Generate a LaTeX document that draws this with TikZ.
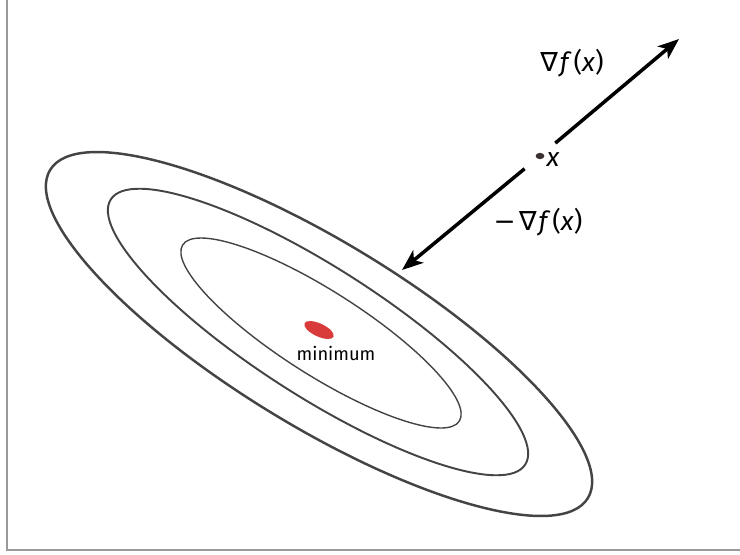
\documentclass[tikz,border=0pt]{standalone}
\usepackage{fontspec}
\setmainfont{Fira Sans}
\newfontfamily\symfont{DejaVu Sans}
\usetikzlibrary{arrows.meta,shapes.geometric}
\definecolor{contourgray}{HTML}{444444}
\definecolor{minred}{HTML}{D93A3A}
\definecolor{dotbrown}{HTML}{3A3030}
\newcommand{\gradf}{{\symfont ∇}\kern0.5pt\textit{f}\kern0.5pt(\textit{x})}
\begin{document}
\begin{tikzpicture}[
    contour/.style={draw=contourgray},
    grad/.style={line width=1pt, -{Stealth[length=6pt, width=4.6pt, inset=1.6pt]}, shorten <=0.2cm},
    dotpt/.style={ellipse, fill=dotbrown, minimum width=2.5pt, minimum height=1.8pt, inner sep=0pt},
    lbl/.style={inner sep=0pt, font=\fontsize{7.5}{9}\selectfont},
    frame/.style={draw=gray!80, line width=0.6pt}
]
\useasboundingbox (0,0) rectangle (7.40,5.54);
% frame (cut off at top and right)
\draw[frame] (0.07,5.60) -- (0.07,0.043) -- (7.50,0.043);
% level sets
\draw[contour, line width=0.7pt, shift={(3.19,2.20)}, rotate=-31.4] (0,0) ellipse (3.15 and 0.92);
\draw[contour, line width=0.55pt, shift={(3.18,2.22)}, rotate=-32.6] (0,0) ellipse (2.46 and 0.645);
\draw[contour, line width=0.4pt, shift={(3.21,2.21)}, rotate=-32.5] (0,0) ellipse (1.64 and 0.42);
% minimum
\fill[minred, shift={(3.19,2.24)}, rotate=-25] (0,0) ellipse (0.16 and 0.065);
\node[lbl, font=\fontsize{5.2}{6}\selectfont] (minlbl) at (3.36,2.01) {minimum};
% point x and gradients
\node[dotpt] (xpt) at (5.40,3.98) {};
\node[lbl] (xlbl) at (5.53,3.94) {\textit{x}};
\coordinate (gtip) at (6.79,5.15);
\coordinate (ntip) at (4.02,2.84);
\draw[grad] (xpt.center) -- (gtip);
\draw[grad] (xpt.center) -- (ntip);
\node[lbl] (glbl) at (5.72,4.91) {\gradf};
\node[lbl] (nlbl) at (5.38,3.32) {{\symfont −}\kern1pt\gradf};
\end{tikzpicture}
\end{document}
